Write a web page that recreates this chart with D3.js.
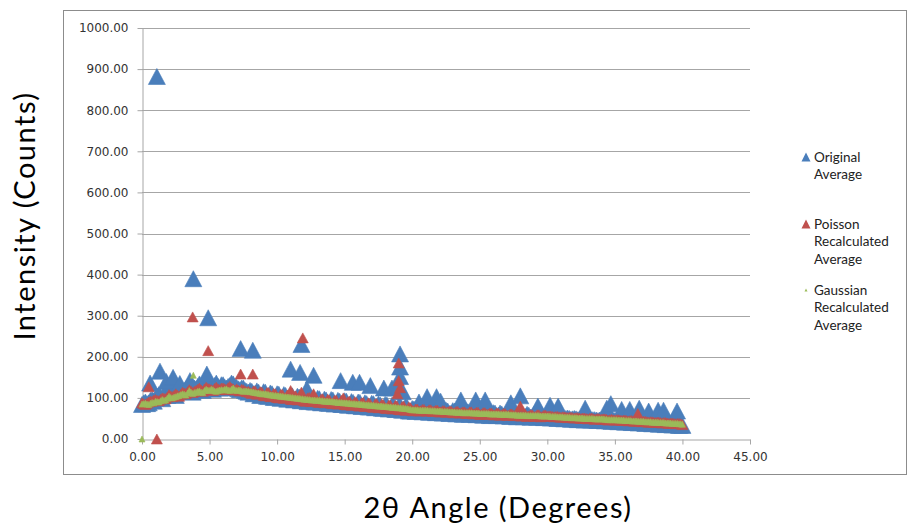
<!DOCTYPE html>
<html>
<head>
<meta charset="utf-8">
<script src="https://cdn.jsdelivr.net/npm/d3@7/dist/d3.min.js"></script>
<style>
  html, body { margin: 0; padding: 0; background: #fff; }
  svg { display: block; }
</style>
</head>
<body>
<svg id="chart" width="909" height="523"></svg>
<script>
// Diffraction scan: mean intensity vs 2θ, sampled every 0.125° from 0 to 40°.
// Each row below covers one degree (8 readings).
const angleStep = 0.125;

const originalAverage = [
  84, 88, 90, 86, 88, 94, 96, 92,
  100, 104, 108, 102, 98, 108, 114, 106,
  110, 118, 124, 112, 106, 120, 128, 116,
  116, 118, 122, 128, 132, 120, 114, 124,
  122, 128, 134, 124, 118, 126, 130, 136,
  128, 124, 121, 130, 136, 128, 124, 132,
  132, 126, 124, 128, 130, 136, 134, 128,
  126, 122, 120, 124, 124, 118, 116, 114,
  118, 116, 110, 111, 117, 114, 106, 107,
  115, 114, 104, 104, 112, 110, 101, 102,
  110, 109, 99, 100, 108, 106, 97, 98,
  106, 105, 95, 96, 104, 102, 93, 94,
  102, 101, 91, 92, 100, 98, 90, 90,
  99, 98, 88, 89, 97, 95, 87, 87,
  96, 95, 85, 86, 94, 92, 84, 84,
  93, 92, 82, 83, 91, 89, 81, 81,
  90, 89, 79, 80, 88, 86, 78, 78,
  87, 86, 76, 77, 85, 83, 75, 75,
  84, 83, 73, 74, 82, 80, 72, 72,
  81, 80, 70, 71, 79, 77, 68, 68,
  74, 73, 67, 68, 73, 71, 66, 67,
  73, 72, 65, 66, 72, 70, 64, 65,
  71, 70, 63, 64, 70, 68, 62, 63,
  69, 68, 61, 62, 68, 66, 60, 61,
  67, 66, 60, 61, 66, 64, 59, 60,
  65, 64, 58, 59, 65, 63, 57, 58,
  64, 63, 57, 58, 63, 61, 56, 57,
  63, 62, 55, 56, 62, 60, 54, 55,
  61, 60, 54, 55, 60, 58, 53, 54,
  60, 59, 53, 54, 59, 57, 52, 53,
  54, 53, 51, 52, 53, 52, 50, 51,
  52, 51, 49, 50, 51, 50, 48, 49,
  50, 49, 47, 48, 49, 48, 46, 47,
  48, 47, 46, 47, 47, 46, 45, 46,
  47, 46, 44, 45, 45, 44, 43, 44,
  45, 44, 42, 43, 44, 43, 41, 42,
  43, 42, 40, 41, 42, 41, 39, 40,
  41, 40, 38, 39, 40, 39, 37, 38,
  39, 38, 36, 37, 38, 37, 35, 36,
  37, 36, 34, 35, 36, 35, 33, 34,
  33
];

const poissonAverage = [
  88, 86, 84, 87, 90, 92, 92, 95,
  96, 94, 93, 97, 100, 99, 98, 102,
  108, 105, 103, 106, 110, 107, 104, 109,
  114, 112, 110, 115, 120, 117, 113, 116,
  118, 121, 124, 119, 116, 122, 126, 123,
  122, 120, 118, 123, 126, 122, 120, 124,
  124, 122, 120, 125, 128, 124, 122, 119,
  122, 119, 117, 121, 120, 117, 115, 116,
  113, 111, 117, 117, 109, 110, 115, 114,
  106, 105, 113, 113, 103, 104, 111, 110,
  101, 100, 108, 109, 99, 100, 107, 106,
  97, 96, 104, 105, 95, 96, 103, 102,
  93, 92, 100, 101, 91, 92, 100, 98,
  90, 89, 97, 98, 88, 89, 97, 95,
  87, 86, 94, 95, 85, 86, 94, 92,
  84, 83, 91, 92, 82, 83, 91, 89,
  81, 80, 88, 89, 79, 80, 88, 86,
  78, 77, 85, 86, 76, 77, 85, 83,
  75, 74, 82, 83, 73, 74, 82, 80,
  72, 71, 79, 80, 70, 71, 78, 76,
  69, 69, 73, 73, 68, 69, 72, 72,
  68, 68, 71, 71, 67, 68, 70, 70,
  66, 66, 69, 69, 65, 66, 68, 68,
  64, 64, 67, 67, 63, 64, 66, 66,
  62, 62, 66, 66, 61, 62, 65, 65,
  60, 60, 64, 64, 60, 61, 63, 63,
  59, 59, 63, 63, 58, 59, 62, 62,
  58, 58, 61, 61, 57, 58, 60, 60,
  56, 56, 60, 60, 55, 56, 59, 59,
  55, 55, 59, 59, 54, 55, 58, 58,
  55, 56, 56, 55, 54, 55, 55, 54,
  53, 54, 54, 53, 52, 53, 53, 52,
  51, 52, 52, 51, 50, 51, 51, 50,
  49, 50, 51, 50, 48, 49, 50, 49,
  48, 49, 49, 48, 46, 47, 48, 47,
  46, 47, 47, 46, 45, 46, 46, 45,
  44, 45, 45, 44, 43, 44, 44, 43,
  42, 43, 43, 42, 41, 42, 42, 41,
  40, 41, 41, 40, 39, 40, 40, 39,
  38, 39, 39, 38, 37, 38, 38, 37,
  35
];

const gaussianAverage = [
  85, 86, 87, 85, 84, 87, 89, 88,
  92, 91, 90, 93, 96, 94, 95, 99,
  104, 101, 100, 102, 103, 105, 106, 108,
  110, 109, 107, 112, 118, 114, 111, 113,
  114, 116, 117, 114, 113, 118, 121, 119,
  118, 121, 120, 117, 116, 118, 119, 120,
  119, 121, 122, 119, 118, 121, 124, 120,
  118, 119, 119, 117, 116, 117, 117, 116,
  115, 115, 114, 113, 112, 112, 111, 110,
  110, 110, 109, 108, 107, 107, 106, 106,
  105, 105, 104, 104, 103, 103, 102, 102,
  101, 101, 100, 100, 99, 99, 98, 98,
  97, 97, 96, 96, 95, 95, 95, 94,
  94, 94, 93, 93, 92, 92, 92, 91,
  91, 91, 90, 90, 89, 89, 89, 88,
  88, 88, 87, 87, 86, 86, 86, 85,
  85, 85, 84, 84, 83, 83, 83, 82,
  82, 82, 81, 81, 80, 80, 80, 79,
  79, 79, 78, 78, 77, 77, 77, 76,
  76, 76, 75, 75, 74, 74, 73, 72,
  71, 71, 71, 71, 70, 70, 70, 70,
  70, 70, 69, 69, 69, 69, 68, 68,
  68, 68, 67, 67, 67, 67, 66, 66,
  66, 66, 65, 65, 65, 65, 64, 64,
  64, 64, 64, 64, 63, 63, 63, 63,
  62, 62, 62, 62, 62, 62, 61, 61,
  61, 61, 61, 61, 60, 60, 60, 60,
  60, 60, 59, 59, 59, 59, 58, 58,
  58, 58, 58, 58, 57, 57, 57, 57,
  57, 57, 57, 57, 56, 56, 56, 56,
  56, 56, 55, 55, 55, 55, 54, 54,
  54, 54, 53, 53, 53, 53, 52, 52,
  52, 52, 51, 51, 51, 51, 50, 50,
  50, 50, 50, 50, 49, 49, 49, 49,
  49, 49, 48, 48, 47, 47, 47, 47,
  47, 47, 46, 46, 46, 46, 45, 45,
  45, 45, 44, 44, 44, 44, 43, 43,
  43, 43, 42, 42, 42, 42, 41, 41,
  41, 41, 40, 40, 40, 40, 39, 39,
  39, 39, 38, 38, 38, 38, 37, 37,
  36
];

// Off-trend readings [2θ, counts] that sit apart from the main band
const originalPeaks = [
  [1.1, 882], [3.8, 390], [4.9, 295], [7.3, 220], [8.2, 216],
  [0.6, 136], [1.33, 165], [1.8, 140], [2.3, 150], [2.8, 135], [3.55, 142], [4.8, 158],
  [11.0, 170], [11.8, 230], [11.7, 162], [12.7, 155], [12.2, 122],
  [14.7, 142], [15.6, 138], [16.1, 138], [16.9, 130], [17.9, 124], [18.5, 124],
  [19.1, 207], [19.1, 175], [19.1, 152], [19.0, 130], [19.3, 115],
  [20.5, 90], [21.1, 103], [21.8, 103], [22.1, 92], [23.6, 95], [24.7, 95], [25.4, 95],
  [27.3, 88], [28.0, 105], [29.3, 80], [30.2, 82], [30.8, 80], [32.8, 75],
  [34.4, 75], [34.7, 86], [35.5, 72], [36.1, 72], [36.8, 75], [37.5, 68],
  [38.2, 70], [38.6, 70], [39.6, 68]
];

const poissonPeaks = [
  [0.5, 127], [1.1, 0], [3.75, 297], [4.9, 215], [7.3, 158], [8.2, 158],
  [11.0, 118], [11.8, 114], [11.9, 246], [12.7, 110], [14.9, 100],
  [18.9, 110], [19.0, 185], [19.0, 142], [19.1, 125], [28.0, 80], [36.7, 62]
];

const gaussianPeaks = [[0, 0], [3.8, 155]];

const yTicks = [0, 100, 200, 300, 400, 500, 600, 700, 800, 900, 1000];
const xTicks = [0, 5, 10, 15, 20, 25, 30, 35, 40, 45];

const legendLabels = [
  ["Original", "Average"],
  ["Poisson", "Recalculated", "Average"],
  ["Gaussian", "Recalculated", "Average"]
];

// ---------------------------------------------------------------------------

const svg = d3.select("#chart");
const plot = { left: 142, right: 750, top: 28, bottom: 439 };

const x = d3.scaleLinear().domain([0, 45]).range([plot.left, plot.right]);
const y = d3.scaleLinear().domain([0, 1000]).range([plot.bottom, plot.top]);

const tickFont = "DejaVu Sans, Verdana, sans-serif";
const textFont = "Lato, 'Open Sans', sans-serif";
const gridColor = "#a6a6a6";

// chart frame
svg.append("rect")
  .attr("x", 63.5).attr("y", 10.5)
  .attr("width", 843).attr("height", 464)
  .attr("fill", "#fff").attr("stroke", "#8c8c8c").attr("stroke-width", 1);

// horizontal gridlines
svg.append("g")
  .selectAll("line")
  .data(yTicks.filter(d => d > 0))
  .join("line")
  .attr("x1", plot.left).attr("x2", plot.right)
  .attr("y1", d => Math.round(y(d)) + 0.5).attr("y2", d => Math.round(y(d)) + 0.5)
  .attr("stroke", gridColor).attr("stroke-width", 1);

// axes
const yAxis = d3.axisLeft(y).tickValues(yTicks).tickFormat(d3.format(".2f"))
  .tickSize(5).tickPadding(9).tickSizeOuter(0);
const xAxis = d3.axisBottom(x).tickValues(xTicks).tickFormat(d3.format(".2f"))
  .tickSize(5).tickPadding(8).tickSizeOuter(0);

const gy = svg.append("g").attr("transform", `translate(${plot.left + 0.5},0)`).call(yAxis);
const gx = svg.append("g").attr("transform", `translate(0,${plot.bottom + 0.5})`).call(xAxis);

[gx, gy].forEach(g => {
  g.select(".domain").attr("stroke", gridColor);
  g.selectAll(".tick line").attr("stroke", gridColor);
  g.selectAll(".tick text")
    .attr("fill", "#333")
    .style("font-family", tickFont)
    .style("font-size", "12px");
});

// triangle marker centred on its bounding box
function triangle(w, h) {
  return `M0,${-h / 2}L${w / 2},${h / 2}L${-w / 2},${h / 2}Z`;
}

const seriesList = [
  { values: originalAverage, peaks: originalPeaks, color: "#4a7ebb", w: 17, h: 16 },
  { values: poissonAverage,  peaks: poissonPeaks,  color: "#c0504d", w: 11, h: 10 },
  { values: gaussianAverage, peaks: gaussianPeaks, color: "#9bbb59", w: 6,  h: 6 }
];

const marks = svg.append("g");
seriesList.forEach(s => {
  const pts = s.values.map((v, i) => [i * angleStep, v]).concat(s.peaks);
  marks.append("g")
    .selectAll("path")
    .data(pts)
    .join("path")
    .attr("d", triangle(s.w, s.h))
    .attr("transform", d => `translate(${x(d[0])},${y(d[1])})`)
    .attr("fill", s.color)
    .attr("stroke", s.color)
    .attr("stroke-width", 0.6);
});

// legend
const legendTops = [157, 224, 290];
const legendMarks = [
  { color: "#4a7ebb", w: 9, h: 9 },
  { color: "#c0504d", w: 9, h: 9 },
  { color: "#9bbb59", w: 3, h: 3 }
];
const legend = svg.append("g");
legendLabels.forEach((lines, i) => {
  legend.append("path")
    .attr("d", triangle(legendMarks[i].w, legendMarks[i].h))
    .attr("transform", `translate(806,${legendTops[i]})`)
    .attr("fill", legendMarks[i].color);
  const t = legend.append("text")
    .attr("x", 814).attr("y", legendTops[i] + 4.5)
    .attr("fill", "#222")
    .style("font-family", textFont)
    .style("font-size", "13.5px");
  lines.forEach((ln, j) => {
    t.append("tspan").attr("x", 814).attr("dy", j === 0 ? 0 : 17.6).text(ln);
  });
});

// axis titles
svg.append("text")
  .attr("transform", "translate(35,216) rotate(-90)")
  .attr("text-anchor", "middle")
  .attr("fill", "#000")
  .style("font-family", textFont)
  .style("font-size", "29px")
  .style("letter-spacing", "1.5px")
  .text("Intensity (Counts)");

svg.append("text")
  .attr("x", 498).attr("y", 518)
  .attr("text-anchor", "middle")
  .attr("fill", "#000")
  .style("font-family", textFont)
  .style("font-size", "29px")
  .style("letter-spacing", "1.5px")
  .text("2θ Angle (Degrees)");
</script>
</body>
</html>
